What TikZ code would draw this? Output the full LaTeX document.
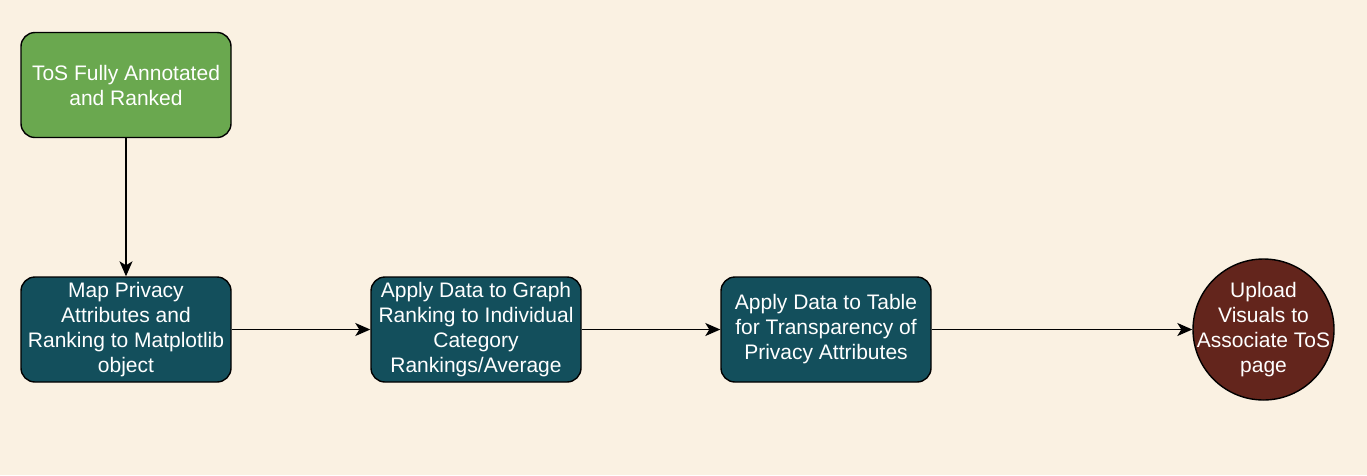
\documentclass[tikz,border=0pt]{standalone}
\usepackage{fontspec}
\setmainfont{Liberation Sans}
\usetikzlibrary{arrows.meta}
\definecolor{bgcream}{HTML}{FAF1E2}
\definecolor{stepgreen}{HTML}{6AA84F}
\definecolor{stepteal}{HTML}{134F5C}
\definecolor{stepbrown}{HTML}{63251C}

\begin{document}
\begin{tikzpicture}[x=1pt, y=-1pt, every node/.style={font=\fontsize{21}{25}\selectfont, text=white, align=center},
  stepbox/.style={draw=black, line width=1.4pt, rounded corners=14pt, minimum width=210pt, minimum height=105pt, inner sep=0pt},
  flow/.style={draw=black, line width=1.4pt, -{Stealth[length=15pt, width=13pt, inset=4pt]}}]
  \fill[bgcream] (0,0) rectangle (1367,475);
  \useasboundingbox (0,0) rectangle (1367,475);
  \node[stepbox, fill=stepgreen] (annot) at (126,85) {ToS Fully Annotated\\and Ranked};
  \node[stepbox, fill=stepteal] (mapattr) at (126,329.5) {Map Privacy\\Attributes and\\Ranking to Matplotlib\\object};
  \node[stepbox, fill=stepteal] (graph) at (476,329.5) {Apply Data to Graph\\Ranking to Individual\\Category\\Rankings/Average};
  \node[stepbox, fill=stepteal] (table) at (826,329.5) {Apply Data to Table\\for Transparency of\\Privacy Attributes};
  \node[circle, draw=black, line width=1.4pt, fill=stepbrown, minimum size=141pt, inner sep=-16pt] (upload) at (1263.5,329.5) {Upload\\Visuals to\\Associate ToS\\page};
  \draw[flow] (annot) -- (mapattr);
  \draw[flow] (mapattr) -- (graph);
  \draw[flow] (graph) -- (table);
  \draw[flow] (table) -- (upload);
\end{tikzpicture}
\end{document}
